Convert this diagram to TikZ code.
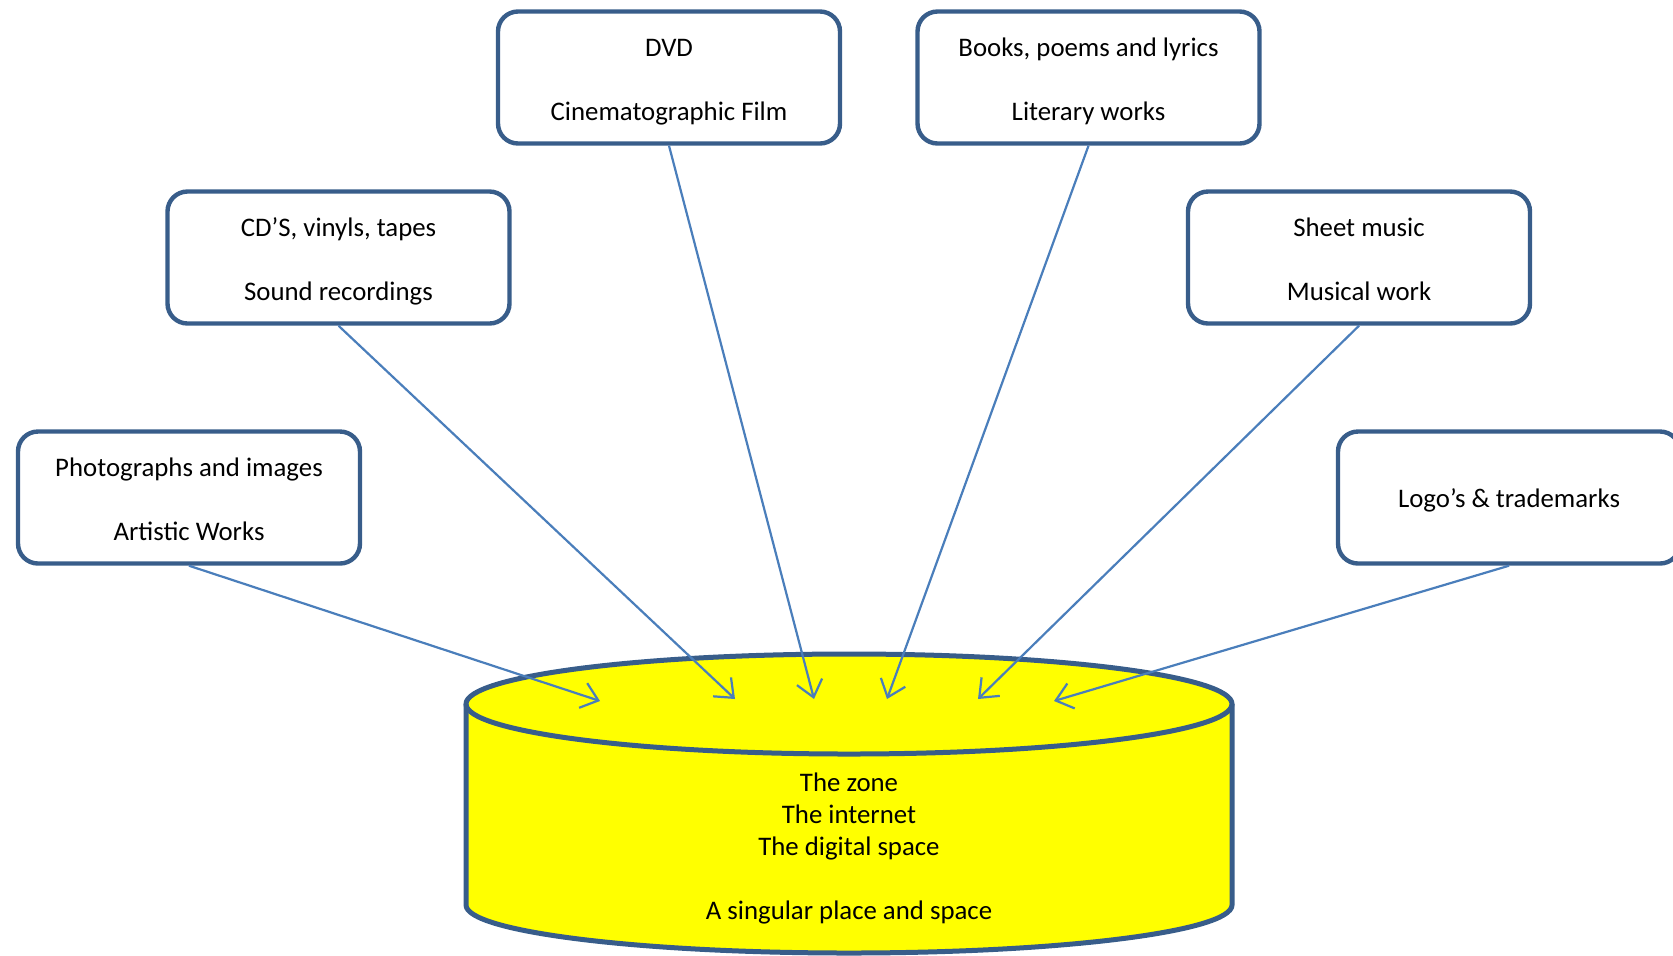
\documentclass[tikz,border=0pt]{standalone}
\usepackage{fontspec}
\setmainfont{Carlito}
\usetikzlibrary{arrows.meta}
\definecolor{boxline}{HTML}{385D8A}
\definecolor{arrline}{HTML}{4A7EBB}
\definecolor{cylfill}{HTML}{FFFF00}
\newcommand{\topstrut}{\rule{0pt}{14.2pt}}
\newcommand{\botstrut}{\rule[-3.6pt]{0pt}{3.6pt}}
\tikzset{
  srcbox/.style={draw=boxline, line width=2.2pt, fill=white, rounded corners=10pt,
    minimum width=171pt, minimum height=66pt, align=center,
    font=\fontsize{13.4}{16}\selectfont, inner sep=0pt},
  feed/.style={draw=arrline, line width=1.1pt,
    -{Straight Barb[length=8pt,width=13pt,line width=1.1pt]}},
  cyl/.style={draw=boxline, line width=2.5pt}
}
\begin{document}
\begin{tikzpicture}[x=0.5pt,y=-0.5pt]
\useasboundingbox (0,0) rectangle (1673,955);
% cylinder
\fill[cylfill] (466,704) -- (466,905) arc[start angle=180,end angle=0,x radius=383,y radius=48]
  -- (1232,704) arc[start angle=0,end angle=-180,x radius=383,y radius=50] -- cycle;
\draw[cyl, line join=round] (466,704) -- (466,905) arc[start angle=180,end angle=0,x radius=383,y radius=48] -- (1232,704);
\draw[cyl] (849,704) ellipse[x radius=383,y radius=50];
\node[align=center, font=\fontsize{13.4}{16}\selectfont] (zone) at (849,848)
  {The zone\\The internet\\The digital space\\[16pt]A singular place and space};
% boxes
\node[srcbox] (art) at (189,497.5) {\topstrut Photographs and images\\[16pt]Artistic Works\botstrut};
\node[srcbox] (snd) at (338.5,257.5) {\topstrut CD’S, vinyls, tapes\\[16pt]Sound recordings\botstrut};
\node[srcbox] (dvd) at (669,77.5) {\topstrut DVD\\[16pt]Cinematographic Film\botstrut};
\node[srcbox] (book) at (1088.5,77.5) {\topstrut Books, poems and lyrics\\[16pt]Literary works\botstrut};
\node[srcbox] (sheet) at (1359,257.5) {\topstrut Sheet music\\[16pt]Musical work\botstrut};
\node[srcbox] (logo) at (1509,497.5) {\rule[-3.6pt]{0pt}{17.3pt}Logo’s \& trademarks};
% targets
\coordinate (t1) at (600,701);
\coordinate (t2) at (735,699);
\coordinate (t3) at (814,699);
\coordinate (t4) at (887,699);
\coordinate (t5) at (978,699);
\coordinate (t6) at (1054,701);
\draw[feed] (art.south) -- (t1);
\draw[feed] (snd.south) -- (t2);
\draw[feed] (dvd.south) -- (t3);
\draw[feed] (book.south) -- (t4);
\draw[feed] (sheet.south) -- (t5);
\draw[feed] (logo.south) -- (t6);
\end{tikzpicture}
\end{document}
